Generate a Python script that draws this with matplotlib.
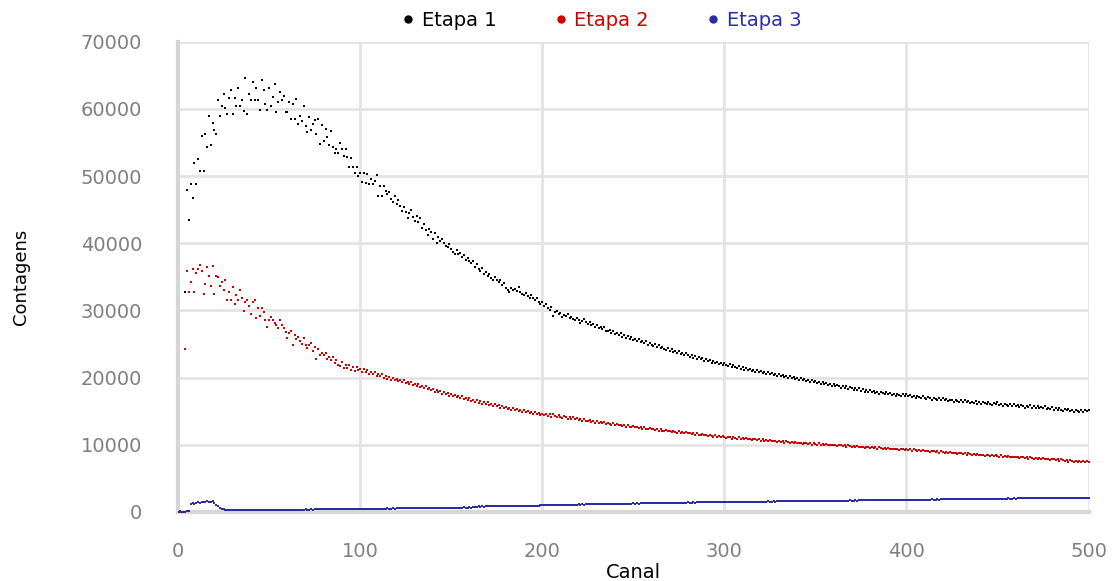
import numpy as np
import matplotlib
matplotlib.use("Agg")
import matplotlib.pyplot as plt
from matplotlib.lines import Line2D

# counts per channel (rows of 10 channels)
etapa1 = [
    0, 0, 0, 0, 32800, 48000, 43500, 48900, 46800, 52000,
    48900, 52600, 50700, 56000, 50700, 56200, 54400, 58900, 54700, 57900,
    56800, 56200, 61300, 58900, 60400, 62200, 60200, 59300, 61700, 62800,
    59300, 61700, 60400, 63100, 60400, 61300, 59700, 64600, 59200, 62200,
    61300, 64000, 61300, 63100, 61300, 59800, 64300, 62900, 60700, 59800,
    63100, 60400, 61800, 63700, 59600, 61000, 62500, 61300, 62000, 59500,
    59500, 61000, 58500, 60700, 58500, 61500, 57700, 59000, 58200, 60400,
    57500, 56500, 58800, 56800, 57800, 58300, 56200, 58500, 54800, 57600,
    55300, 57000, 55800, 54700, 56700, 54400, 53400, 54000, 53400, 55000,
    54000, 53000, 54000, 52900, 51300, 52700, 51300, 50400, 51300, 50000,
    50500, 49100, 50500, 49000, 50300, 48900, 49500, 48900, 49300, 50100,
    47000, 48500, 47100, 48500, 47800, 47300, 47600, 46600, 46200, 47000,
    45900, 46400, 45500, 44800, 45400, 44700, 43800, 44500, 45000, 43900,
    43300, 44000, 43100, 43800, 42300, 42900, 42000, 41300, 42200, 41700,
    40700, 41500, 40100, 40900, 40300, 40700, 40000, 39600, 39500, 39900,
    39100, 38700, 38400, 39000, 38400, 38500, 37900, 38200, 37500, 37800,
    37300, 37000, 37400, 36500, 36900, 36100, 35900, 36300, 35400, 35700,
    35100, 35400, 34900, 34600, 35000, 34500, 34200, 34500, 33800, 34100,
    33400, 33000, 32800, 33400, 33100, 33200, 32900, 33500, 32700, 32500,
    32300, 32600, 32100, 31800, 32300, 31900, 31500, 31900, 31300, 31000,
    31200, 30700, 30900, 30400, 30100, 30500, 29200, 29800, 29900, 29400,
    29600, 29000, 29300, 29100, 29400, 28800, 29000, 28700, 28500, 28900,
    28600, 28200, 28400, 28700, 28300, 28000, 28300, 27800, 28000, 27600,
    27900, 27400, 27600, 27200, 27500, 27000, 26900, 27100, 26700, 26900,
    26500, 26700, 26300, 26600, 26100, 26400, 25900, 26200, 25800, 26000,
    25600, 25800, 25400, 25700, 25300, 25500, 25100, 25400, 24900, 25200,
    24900, 24700, 25000, 24500, 24800, 24400, 24600, 24300, 24100, 24400,
    24000, 24200, 23800, 24000, 23600, 23900, 23500, 23700, 23300, 23600,
    23300, 23100, 23400, 22900, 23200, 22800, 23000, 22700, 22900, 22500,
    22700, 22400, 22600, 22200, 22500, 22100, 22300, 22000, 22200, 21900,
    22100, 21800, 21700, 22000, 21600, 21800, 21500, 21400, 21700, 21300,
    21500, 21200, 21400, 21100, 21300, 21000, 21200, 20900, 21100, 20800,
    21000, 20700, 20900, 20600, 20800, 20500, 20700, 20400, 20600, 20300,
    20500, 20200, 20400, 20100, 20300, 20000, 20200, 19900, 20100, 19800,
    20000, 19700, 19900, 19600, 19800, 19500, 19700, 19400, 19600, 19300,
    19500, 19200, 19400, 19100, 19300, 19000, 19200, 18900, 19100, 18800,
    19000, 18700, 18900, 18700, 18500, 18800, 18400, 18700, 18300, 18600,
    18400, 18200, 18500, 18100, 18400, 18000, 18300, 17900, 18200, 17900,
    18100, 17800, 18000, 17700, 17900, 17600, 17900, 17700, 17500, 17800,
    17500, 17700, 17400, 17600, 17300, 17600, 17400, 17200, 17500, 17300,
    17500, 17200, 17400, 17100, 17300, 17000, 17300, 17100, 16900, 17200,
    17000, 16800, 17100, 16900, 16700, 17000, 16800, 16600, 16900, 16700,
    16900, 16600, 16800, 16500, 16700, 16600, 16400, 16700, 16500, 16300,
    16600, 16400, 16600, 16300, 16500, 16200, 16400, 16200, 16500, 16100,
    16300, 16100, 16400, 16200, 16000, 16300, 16100, 15900, 16200, 16000,
    16300, 15900, 16100, 15800, 16100, 15900, 15700, 16000, 15800, 16000,
    15700, 15900, 15600, 15900, 15700, 15500, 15800, 15600, 15900, 15500,
    15700, 15500, 15800, 15400, 15600, 15400, 15700, 15300, 15500, 15300,
    15600, 15200, 15400, 15100, 15400, 15200, 15000, 15300, 15100, 15300,
    15000, 15200, 14900, 15200, 15000, 14800, 15100, 14900, 15200, 15000,
    15100,
]

etapa2 = [
    0, 0, 0, 0, 24300, 35800, 32800, 34300, 36200, 32800,
    35500, 36100, 36800, 35800, 32500, 34000, 36500, 35100, 33700, 36600,
    32500, 35100, 35000, 33700, 34200, 33100, 34600, 31600, 32800, 31600,
    33500, 31000, 32300, 31600, 33100, 31900, 29900, 31200, 31600, 30600,
    29500, 31300, 31600, 28900, 30400, 29200, 30400, 29700, 28600, 27600,
    28600, 29000, 28600, 28100, 27800, 27400, 28600, 27800, 27400, 26800,
    25900, 26600, 27000, 24900, 26400, 25800, 26000, 25400, 25000, 25900,
    24900, 24400, 24900, 25200, 24000, 24600, 22800, 24200, 23400, 23700,
    23300, 23700, 22800, 23100, 22600, 23000, 22200, 22600, 21900, 21700,
    22300, 21400, 21900, 21400, 21800, 21200, 21600, 21000, 21500, 21100,
    21300, 20900, 21300, 20800, 21100, 20600, 20900, 20500, 20800, 20300,
    20600, 20200, 20500, 20000, 20300, 19800, 20100, 19700, 20000, 19600,
    19800, 19500, 19700, 19300, 19600, 19200, 19400, 19000, 19300, 18900,
    19100, 18700, 19000, 18600, 18800, 18400, 18700, 18300, 18500, 18100,
    18300, 17900, 18200, 17800, 18000, 17600, 17900, 17500, 17700, 17300,
    17600, 17200, 17400, 17100, 17300, 16900, 17200, 16800, 17000, 16600,
    16900, 16500, 16700, 16400, 16600, 16200, 16500, 16100, 16400, 16000,
    16300, 15900, 16100, 15800, 16000, 15700, 15900, 15500, 15800, 15400,
    15600, 15300, 15500, 15200, 15400, 15100, 15300, 15000, 15200, 14900,
    15100, 14800, 15000, 14700, 14900, 14600, 14800, 14500, 14700, 14400,
    14600, 14400, 14600, 14300, 14500, 14200, 14500, 14300, 14100, 14400,
    14200, 14000, 14300, 14100, 13900, 14200, 13900, 14100, 13800, 14000,
    13700, 13900, 13600, 13800, 13600, 13500, 13700, 13400, 13600, 13300,
    13500, 13300, 13400, 13200, 13400, 13100, 13300, 13100, 13000, 13200,
    13000, 13100, 12900, 13000, 12800, 13000, 12700, 12900, 12700, 12600,
    12800, 12600, 12700, 12500, 12700, 12400, 12600, 12400, 12300, 12500,
    12300, 12400, 12200, 12400, 12100, 12300, 12100, 12000, 12200, 12000,
    12100, 11900, 12100, 11900, 11800, 12000, 11800, 11900, 11700, 11900,
    11700, 11800, 11600, 11700, 11500, 11700, 11500, 11400, 11600, 11400,
    11500, 11300, 11500, 11300, 11200, 11400, 11200, 11300, 11100, 11300,
    11200, 11000, 11200, 11100, 10900, 11100, 11000, 10900, 11100, 10900,
    11000, 10800, 11000, 10800, 10900, 10700, 10900, 10800, 10700, 10800,
    10600, 10800, 10600, 10700, 10500, 10700, 10600, 10500, 10600, 10400,
    10600, 10400, 10500, 10300, 10500, 10400, 10300, 10400, 10200, 10400,
    10300, 10200, 10300, 10100, 10300, 10200, 10100, 10200, 10000, 10200,
    10100, 10000, 10200, 10000, 10100, 9900, 10100, 10000, 9900, 10000,
    9900, 10000, 9800, 10000, 9900, 9800, 9900, 9700, 9900, 9800,
    9700, 9800, 9600, 9800, 9700, 9600, 9700, 9500, 9700, 9600,
    9500, 9600, 9500, 9600, 9400, 9600, 9500, 9400, 9500, 9300,
    9500, 9400, 9300, 9400, 9300, 9400, 9200, 9400, 9300, 9200,
    9300, 9200, 9300, 9100, 9300, 9200, 9100, 9200, 9000, 9200,
    9100, 9000, 9100, 8900, 9100, 9000, 8900, 9000, 8800, 9000,
    8900, 8800, 8900, 8700, 8900, 8800, 8700, 8800, 8600, 8800,
    8700, 8600, 8700, 8500, 8700, 8600, 8500, 8600, 8400, 8600,
    8500, 8400, 8500, 8300, 8500, 8400, 8300, 8400, 8300, 8400,
    8300, 8200, 8400, 8200, 8300, 8100, 8300, 8200, 8100, 8200,
    8100, 8200, 8000, 8200, 8100, 8000, 8100, 7900, 8100, 8000,
    7900, 8000, 7900, 8000, 7800, 8000, 7900, 7800, 7900, 7700,
    7900, 7800, 7700, 7800, 7600, 7800, 7700, 7600, 7700, 7500,
    7700, 7600, 7500, 7600, 7500, 7600, 7400, 7600, 7500, 7600,
    7500,
]

etapa3 = [
    0, 100, 0, 50, 0, 100, 150, 1200, 1300, 1200,
    1300, 1400, 1300, 1500, 1400, 1500, 1600, 1400, 1500, 1600,
    1300, 1000, 800, 600, 500, 400, 350, 300, 300, 310,
    290, 300, 280, 310, 300, 290, 300, 320, 290, 300,
    310, 280, 300, 310, 300, 290, 310, 300, 320, 300,
    290, 310, 300, 320, 310, 300, 290, 310, 320, 300,
    310, 330, 320, 310, 340, 320, 330, 350, 330, 340,
    360, 340, 350, 370, 350, 360, 380, 360, 370, 390,
    370, 380, 400, 380, 390, 410, 390, 400, 420, 400,
    410, 430, 410, 420, 440, 420, 430, 450, 430, 440,
    460, 440, 450, 470, 450, 460, 480, 460, 470, 490,
    470, 480, 500, 480, 490, 510, 490, 500, 520, 500,
    510, 530, 510, 520, 540, 520, 530, 550, 530, 540,
    560, 540, 550, 570, 550, 560, 580, 560, 570, 590,
    570, 580, 600, 580, 590, 610, 590, 600, 620, 600,
    610, 630, 610, 620, 640, 620, 630, 650, 630, 640,
    660, 640, 650, 680, 760, 800, 780, 810, 790, 800,
    820, 800, 820, 840, 820, 830, 850, 830, 850, 870,
    850, 860, 880, 860, 870, 890, 870, 880, 900, 880,
    900, 920, 900, 910, 930, 910, 920, 940, 920, 950,
    1000, 980, 1010, 1000, 1020, 1000, 1030, 1010, 1040, 1020,
    1050, 1030, 1060, 1040, 1070, 1050, 1080, 1060, 1090, 1070,
    1100, 1080, 1110, 1090, 1120, 1100, 1130, 1110, 1140, 1120,
    1150, 1130, 1160, 1140, 1170, 1150, 1180, 1160, 1190, 1170,
    1200, 1180, 1210, 1190, 1220, 1200, 1230, 1210, 1240, 1220,
    1250, 1230, 1260, 1240, 1250, 1270, 1250, 1260, 1280, 1260,
    1270, 1290, 1270, 1280, 1300, 1280, 1290, 1310, 1290, 1300,
    1320, 1300, 1310, 1330, 1310, 1380, 1360, 1390, 1370, 1380,
    1400, 1380, 1390, 1410, 1390, 1400, 1420, 1400, 1410, 1430,
    1410, 1420, 1440, 1420, 1430, 1450, 1430, 1440, 1460, 1450,
    1470, 1450, 1460, 1480, 1460, 1470, 1490, 1470, 1480, 1500,
    1480, 1490, 1510, 1490, 1500, 1520, 1500, 1510, 1530, 1510,
    1520, 1540, 1520, 1530, 1550, 1530, 1540, 1560, 1540, 1550,
    1570, 1550, 1560, 1580, 1560, 1570, 1590, 1570, 1580, 1600,
    1580, 1590, 1610, 1590, 1600, 1620, 1600, 1610, 1630, 1610,
    1620, 1640, 1620, 1630, 1650, 1630, 1640, 1660, 1640, 1650,
    1670, 1650, 1660, 1680, 1660, 1670, 1690, 1670, 1680, 1700,
    1680, 1690, 1710, 1690, 1700, 1720, 1700, 1710, 1730, 1710,
    1720, 1740, 1720, 1730, 1750, 1730, 1740, 1760, 1740, 1750,
    1770, 1750, 1760, 1780, 1760, 1770, 1790, 1770, 1780, 1800,
    1780, 1790, 1810, 1790, 1800, 1820, 1800, 1810, 1830, 1810,
    1820, 1840, 1820, 1830, 1850, 1830, 1840, 1860, 1840, 1850,
    1870, 1850, 1860, 1880, 1860, 1870, 1890, 1870, 1880, 1900,
    1880, 1890, 1910, 1890, 1900, 1920, 1900, 1910, 1930, 1910,
    1920, 1940, 1920, 1930, 1950, 1930, 1940, 1960, 1940, 1950,
    1970, 1950, 1960, 1980, 1960, 1970, 1990, 1970, 1980, 2000,
    1980, 1990, 2010, 1990, 2000, 2020, 2000, 2010, 2030, 2010,
    2020, 2040, 2020, 2030, 2050, 2030, 2040, 2060, 2040, 2050,
    2070, 2050, 2060, 2080, 2060, 2070, 2090, 2070, 2080, 2100,
    2080, 2090, 2110, 2090, 2100, 2120, 2100, 2110, 2130, 2110,
    2120,
]

series = [("Etapa 1", etapa1, "#000000"),
          ("Etapa 2", etapa2, "#D00000"),
          ("Etapa 3", etapa3, "#2A2EA6")]

x_ticks = [0, 100, 200, 300, 400, 500]
y_ticks = [0, 10000, 20000, 30000, 40000, 50000, 60000, 70000]

GRID = "#E3E3E3"
TICK = "#7F7F7F"

fig = plt.figure(figsize=(11.13, 5.81), dpi=100)
ax = fig.add_axes([0.160, 0.119, 0.818, 0.809])

for name, vals, color in series:
    ch = np.arange(len(vals))
    ax.scatter(ch, vals, marker="s", s=4.5, color=color, linewidths=0, zorder=3)

ax.set_xlim(0, 500)
ax.set_ylim(0, 70000)
ax.set_xticks(x_ticks)
ax.set_yticks(y_ticks)
ax.tick_params(length=0, labelsize=14, labelcolor=TICK)
ax.tick_params(axis="y", pad=26)
ax.tick_params(axis="x", pad=22)
ax.grid(True, color=GRID, linewidth=2)
ax.set_axisbelow(True)
for side in ["top", "right"]:
    ax.spines[side].set_visible(False)
for side in ["left", "bottom"]:
    ax.spines[side].set_color("#D6D6D6")
    ax.spines[side].set_linewidth(3)

ax.set_xlabel("Canal", fontsize=14, labelpad=1)
ax.set_ylabel("Contagens", fontsize=13, labelpad=36)

handles = [Line2D([], [], linestyle="none", marker="o", markersize=5,
                  color=c, label=n) for n, _, c in series]
leg = fig.legend(handles=handles, loc="upper center", bbox_to_anchor=(0.540, 1.012),
                 ncol=3, frameon=False, fontsize=14, handletextpad=0.3,
                 columnspacing=2.9, handlelength=0.8)
for txt, (_, _, c) in zip(leg.get_texts(), series):
    txt.set_color(c)

fig.savefig("out.png", dpi=100)
